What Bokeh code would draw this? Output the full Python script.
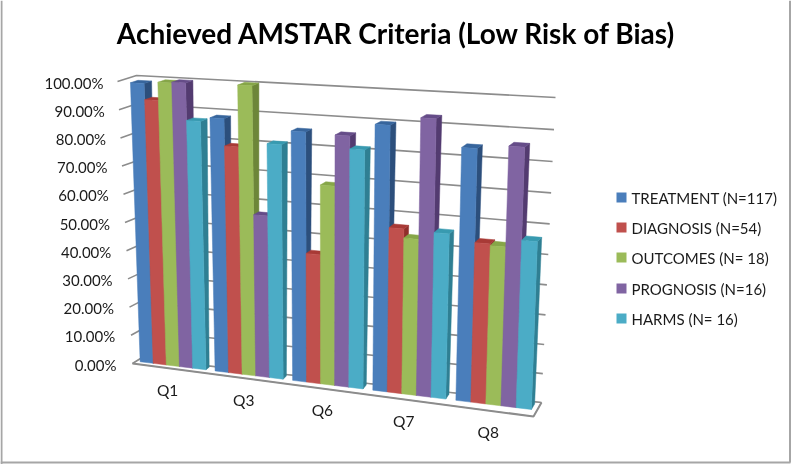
from bokeh.plotting import figure
from bokeh.models import Range1d
from bokeh.core.properties import value
from bokeh.embed import file_html
from bokeh.resources import INLINE

categories = ["Q1", "Q3", "Q6", "Q7", "Q8"]
treatment = [98.7, 88.2, 85.6, 89.7, 84.2]
diagnosis = [93, 78.8, 44.5, 56, 53.8]
outcomes = [99.4, 100, 68.2, 53, 53.3]
prognosis = [99.7, 56, 85.3, 92.8, 85.7]
harms = [86.7, 80.7, 81, 55.8, 56]
series_names = ["TREATMENT (N=117)", "DIAGNOSIS (N=54)", "OUTCOMES (N= 18)", "PROGNOSIS (N=16)", "HARMS (N= 16)"]
series_values = [treatment, diagnosis, outcomes, prognosis, harms]
front_colors = ["#4a7ebb", "#c0504d", "#9bbb59", "#8064a2", "#4bacc6"]
side_colors = ["#2c4f7c", "#8f2f2b", "#6d8639", "#533b70", "#2f7f93"]
top_colors = ["#37659c", "#a83a36", "#86a648", "#654c88", "#389ab0"]
tick_values = [0, 10, 20, 30, 40, 50, 60, 70, 80, 90, 100]
title = "Achieved AMSTAR Criteria (Low Risk of Bias)"

# projection of the 3-D box (corners)
FL0, FR0, BR0, BL0 = (132, 363), (533, 416), (541, 402), (140, 358)
FL1, FR1, BR1, BL1 = (117, 81), (542, 106), (555, 97), (136, 75)
K = 1.09
CURVE = 0.06


def proj(u, v, pct):
    s = u / (u + K * (1 - u))
    h = pct / 100
    h = h - CURVE * s * h * (1 - h)
    res = []
    for i in (0, 1):
        f0 = FL0[i] + (FR0[i] - FL0[i]) * s
        b0 = BL0[i] + (BR0[i] - BL0[i]) * s
        f1 = FL1[i] + (FR1[i] - FL1[i]) * s
        b1 = BL1[i] + (BR1[i] - BL1[i]) * s
        lo = f0 + (b0 - f0) * v
        hi = f1 + (b1 - f1) * v
        res.append(lo + (hi - lo) * h)
    return res


def poly(points):
    pts = [proj(*q) for q in points]
    return [a[0] for a in pts], [a[1] for a in pts]


W, H = 792, 464
p = figure(width=W, height=H, x_range=Range1d(0, W), y_range=Range1d(H, 0),
           output_backend="svg", toolbar_location=None,
           x_axis_location=None, y_axis_location=None, min_border=0,
           background_fill_color="white", border_fill_color="white",
           outline_line_color=None, styles={"position": "fixed", "left": "0px", "top": "0px"})
p.grid.visible = False

GRID = "#8c8c8c"
FONT = value("Lato")

# chart frame
p.line([1, 1], [0, H], line_color="#a6a6a6", line_width=2)
p.line([789.5, 789.5], [0, 462], line_color="#a6a6a6", line_width=2)
p.line([0, 790], [462, 462], line_color="#a6a6a6", line_width=2)

# floor
fx, fy = poly([(0, 0, 0), (1, 0, 0), (1, 1, 0), (0, 1, 0)])
p.patch(fx, fy, fill_color="white", line_color="#b5b5b5", line_width=1)
ex, ey = poly([(0, 0, 0), (1, 0, 0), (1, 1, 0)])
p.line(ex, ey, line_color=GRID, line_width=2)

# gridlines and ticks
for t in tick_values:
    gx, gy = poly([(0, 0, t), (0, 1, t), (1, 1, t)])
    p.line(gx, gy, line_color=GRID, line_width=1.6)

# bars
V0, V1 = 0.45, 0.85
n = len(categories)
m = len(series_names)
cw = 1 / n
start, span = 0.011, 0.176
for c in range(n):
    for j in range(m):
        val = series_values[j][c]
        u0 = c * cw + start + span * j / m
        u1 = c * cw + start + span * (j + 1) / m
        sx, sy = poly([(u1, V0, 0), (u1, V1, 0), (u1, V1, val), (u1, V0, val)])
        p.patch(sx, sy, fill_color=side_colors[j], line_color=side_colors[j], line_width=0.5)
        tx, ty = poly([(u0, V0, val), (u1, V0, val), (u1, V1, val), (u0, V1, val)])
        p.patch(tx, ty, fill_color=top_colors[j], line_color=top_colors[j], line_width=0.5)
        ax, ay = poly([(u0, V0, 0), (u1, V0, 0), (u1, V0, val), (u0, V0, val)])
        p.patch(ax, ay, fill_color=front_colors[j], line_color=front_colors[j], line_width=0.5)

# tick labels
lx, ly, lt = [], [], []
for t in tick_values:
    x, y = proj(0, 0, t)
    lx.append(x - 14 - 2 * (1 - t / 100))
    ly.append(y + 1)
    lt.append(f"{t:.2f}%")
p.text(lx, ly, text=lt, text_align="right", text_baseline="middle",
       text_font=FONT, text_font_size="15px", text_color="#1a1a1a")

# category labels
cx, cy = [], []
for c in range(n):
    x, y = proj((c + 0.5) * cw, 0, 0)
    cx.append(x - 2)
    cy.append(y + 21.5)
p.text(cx, cy, text=categories, text_align="center", text_baseline="middle",
       text_font=FONT, text_font_size="15.5px", text_color="#1a1a1a")

# title
p.text([396], [32], text=[title], text_align="center", text_baseline="middle",
       text_font=FONT, text_font_style="bold", text_font_size="28px", text_color="#000000")

# legend
ly0 = [197, 227, 257, 288, 318]
p.quad(left=[616] * m, right=[626] * m, top=[y - 5 for y in ly0], bottom=[y + 5 for y in ly0],
       fill_color=front_colors, line_color=None)
p.text([631] * m, ly0, text=series_names, text_align="left", text_baseline="middle",
       text_font=FONT, text_font_size="15px", text_color="#1a1a1a")

open("out.html", "w").write(file_html(p, INLINE))
